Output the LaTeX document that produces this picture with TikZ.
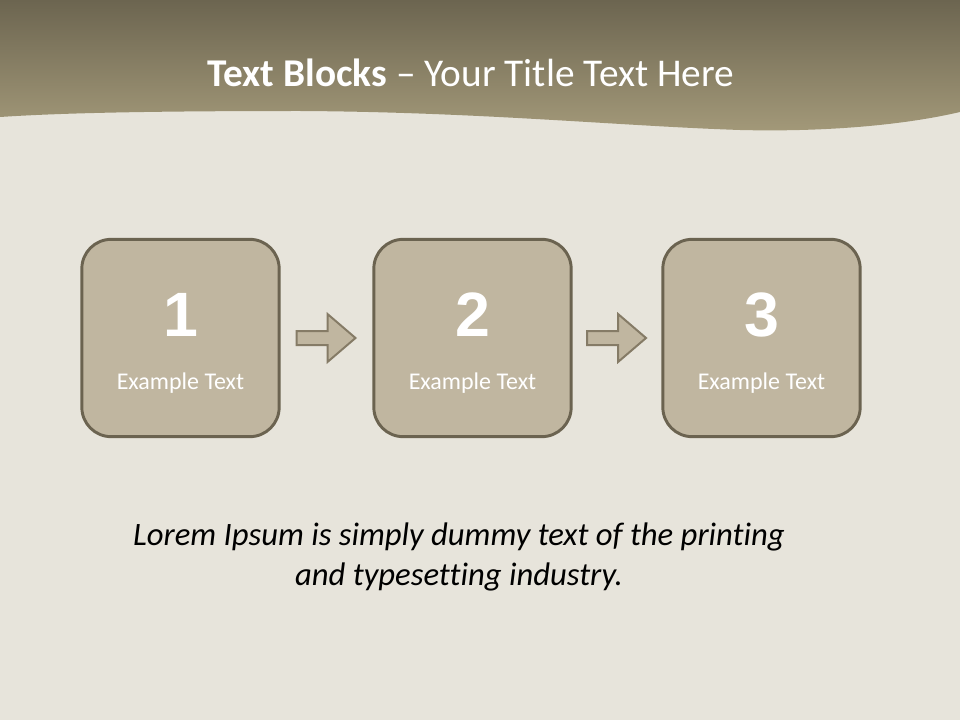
\documentclass[tikz,border=0pt]{standalone}
\usepackage{fontspec}
\setmainfont{Carlito}[Ligatures=NoCommon]
\newfontfamily\digitfont{Liberation Sans}
\usetikzlibrary{calc}
\definecolor{bgpaper}{HTML}{E7E4DB}
\definecolor{hdrtop}{HTML}{6C6550}
\definecolor{hdrbot}{HTML}{A39979}
\definecolor{blkfill}{HTML}{C0B6A0}
\definecolor{blkline}{HTML}{6B6350}
\definecolor{arrline}{HTML}{857B66}

\begin{document}
\begin{tikzpicture}[x=0.75pt,y=-0.75pt,
    blockbox/.style={draw=blkline,fill=blkfill,line width=2.2pt,rounded corners=22pt,
        minimum width=148pt,minimum height=148pt,inner sep=0pt},
    numlbl/.style={text=white,inner sep=0pt,font=\digitfont\bfseries\fontsize{47}{47}\selectfont},
    blklbl/.style={text=white,inner sep=0pt,font=\fontsize{18}{21}\selectfont},
    blkarrow/.style={draw=arrline,fill=blkfill,line width=1.5pt,line join=miter},
    title/.style={text=white,inner sep=0pt,font=\fontsize{29.5}{34}\selectfont},
    body/.style={inner sep=0pt,font=\itshape\fontsize{24.5}{30}\selectfont}
]
\useasboundingbox (0,0) rectangle (960,720);

% paper
\fill[bgpaper] (0,0) rectangle (960,720);

% header band
\shade[top color=hdrtop,bottom color=hdrbot]
    (0,0) -- (960,0) -- (960,112)
    .. controls (900,126) and (820,132) .. (740,130)
    .. controls (620,126) and (480,112) .. (300,111)
    .. controls (150,111) and (60,113) .. (0,117) -- cycle;
\node[title,anchor=base] (ttl) at (471,87) {\textbf{Text Blocks} – Your Title Text Here};

% blocks
\foreach \i/\cx in {1/180.5,2/472.5,3/761.5} {
    \node[blockbox] (blk\i) at (\cx,338) {};
    \node[numlbl] (num\i) at (\cx,314.5) {\i};
    \node[blklbl,anchor=base] (txt\i) at (\cx,389) {Example Text};
}

% arrows between blocks
\foreach \a/\b in {1/2,2/3} {
    \coordinate (mid\a) at ($(blk\a.east)!0.5!(blk\b.west)$);
    \draw[blkarrow] ($(mid\a)+(-30,-7)$) -- ($(mid\a)+(1,-7)$) -- ($(mid\a)+(1,-24)$)
        -- ($(mid\a)+(29,0)$) -- ($(mid\a)+(1,24)$) -- ($(mid\a)+(1,7)$)
        -- ($(mid\a)+(-30,7)$) -- cycle;
}

% body text
\node[body,anchor=base] (lorem1) at (459,545) {Lorem Ipsum is simply dummy text of the printing};
\node[body,anchor=base] (lorem2) at (459,585) {and typesetting industry.};

\end{tikzpicture}
\end{document}
